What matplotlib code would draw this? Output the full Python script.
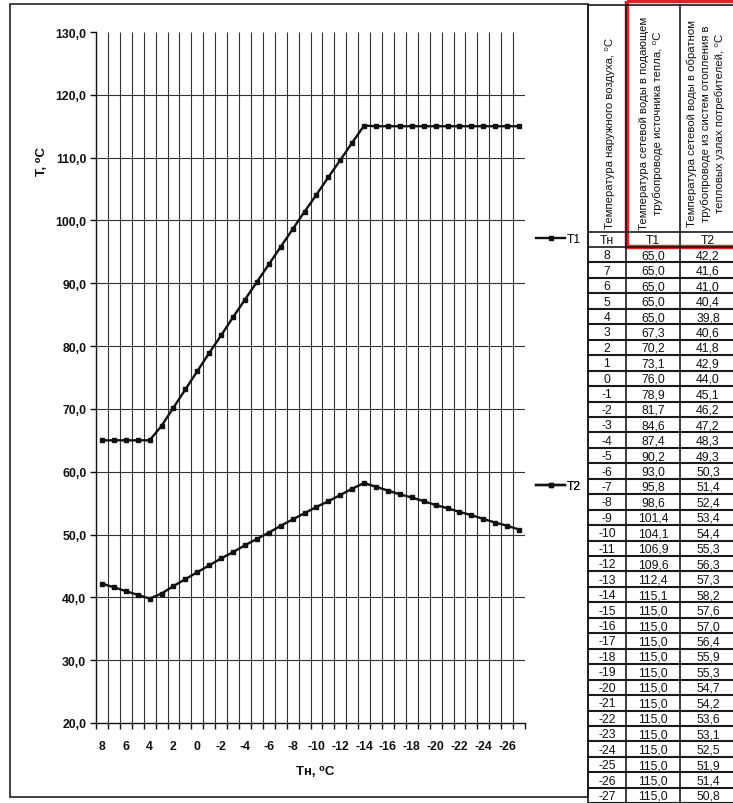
import matplotlib
matplotlib.use("Agg")
import matplotlib.pyplot as plt
from matplotlib.patches import Rectangle
from matplotlib.ticker import FuncFormatter, FixedLocator

plt.rcParams["font.family"] = ["Liberation Sans", "DejaVu Sans"]

# температурный график: наружная температура и температуры сетевой воды
t_out = [8, 7, 6, 5, 4, 3, 2, 1, 0, -1, -2, -3, -4, -5, -6, -7, -8, -9,
         -10, -11, -12, -13, -14, -15, -16, -17, -18, -19, -20, -21, -22,
         -23, -24, -25, -26, -27]
t1 = [65.0, 65.0, 65.0, 65.0, 65.0, 67.3, 70.2, 73.1, 76.0, 78.9, 81.7,
      84.6, 87.4, 90.2, 93.0, 95.8, 98.6, 101.4, 104.1, 106.9, 109.6,
      112.4, 115.1, 115.0, 115.0, 115.0, 115.0, 115.0, 115.0, 115.0,
      115.0, 115.0, 115.0, 115.0, 115.0, 115.0]
t2 = [42.2, 41.6, 41.0, 40.4, 39.8, 40.6, 41.8, 42.9, 44.0, 45.1, 46.2,
      47.2, 48.3, 49.3, 50.3, 51.4, 52.4, 53.4, 54.4, 55.3, 56.3, 57.3,
      58.2, 57.6, 57.0, 56.4, 55.9, 55.3, 54.7, 54.2, 53.6, 53.1, 52.5,
      51.9, 51.4, 50.8]

col_titles = [
    "Температура наружного воздуха, ⁰C",
    "Температура сетевой воды в подающем\nтрубопроводе источника тепла, ⁰C",
    "Температура сетевой воды в обратном\nтрубопроводе из систем отопления в\nтепловых узлах потребителей, ⁰C",
]
col_names = ["Тн", "T1", "T2"]

W, H = 733, 804
fig = plt.figure(figsize=(W / 100, H / 100), dpi=100)

# подложка в пикселях: рамка диаграммы и таблица
sheet = fig.add_axes([0, 0, 1, 1], zorder=-1)
sheet.set_xlim(0, W)
sheet.set_ylim(H, 0)
sheet.axis("off")

sheet.add_patch(Rectangle((10, 5), 578, 793, fill=False, ec="#222", lw=1.2))

col_edges = [588, 626, 680, 736]
head_top, head_bot, name_bot = 6, 233, 248
row_h = 15.45
n = len(t_out)
tab_bot = name_bot + n * row_h

lc = "#1a1a1a"
sheet.vlines(col_edges, head_top, tab_bot, color=lc, lw=1.2)
sheet.hlines([head_top, head_bot, name_bot], col_edges[0], col_edges[-1], color=lc, lw=1.2)
sheet.hlines([name_bot + (i + 1) * row_h for i in range(n)], col_edges[0], col_edges[-1],
             color=lc, lw=1.5)

centers = [(col_edges[i] + col_edges[i + 1]) / 2 for i in range(3)]
sheet.text(centers[0] + 3, head_bot - 4, col_titles[0], rotation=90, ha="center",
           va="bottom", fontsize=8.2, color="#111")
for c, title in zip(centers[1:], col_titles[1:]):
    sheet.text(c - 2, (head_top + head_bot) / 2 + 4, title, rotation=90, ha="center",
               va="center", fontsize=8.2, linespacing=1.45, color="#111",
               multialignment="center")

for c, name in zip(centers, col_names):
    sheet.text(c, (head_bot + name_bot) / 2 + 0.5, name, ha="center", va="center",
               fontsize=8.8, color="#111")

for i in range(n):
    y = name_bot + (i + 0.5) * row_h + 0.5
    row = [str(t_out[i]), f"{t1[i]:.1f}".replace(".", ","), f"{t2[i]:.1f}".replace(".", ",")]
    for c, s in zip(centers, row):
        sheet.text(c, y, s, ha="center", va="center", fontsize=8.8, color="#111")

# красная рамка вокруг столбцов T1 и T2
sheet.add_patch(Rectangle((627, 2), 112, 246, fill=False, ec="#e3202a", lw=3.2,
                          clip_on=False))

# график
ax = fig.add_axes([96 / W, 1 - 724 / H, (525 - 96) / W, (724 - 33) / H])
ax.set_xlim(8.5, -27.5)
ax.set_ylim(20, 130)

bounds = [t + 0.5 for t in t_out] + [t_out[-1] - 0.5]
grid_c = "#333333"
ax.vlines(bounds[1:-1], 20, 130, color=grid_c, lw=0.8)
ax.hlines(range(30, 130, 10), bounds[0], bounds[-1], color=grid_c, lw=0.8)

ax.plot(t_out, t1, color="#111", lw=1.7, marker="s", ms=2.2, label="T1")
ax.plot(t_out, t2, color="#111", lw=1.7, marker="s", ms=2.2, label="T2")

for s in ["top", "right"]:
    ax.spines[s].set_visible(False)
for s in ["left", "bottom"]:
    ax.spines[s].set_color("#111")
    ax.spines[s].set_linewidth(1.0)

ax.set_yticks(range(20, 131, 10))
ax.yaxis.set_major_formatter(FuncFormatter(lambda v, p: f"{v:.1f}".replace(".", ",")))
ax.tick_params(axis="y", length=4, width=1, pad=3, labelsize=8.8, colors="#111")
for lab in ax.get_yticklabels():
    lab.set_fontweight("bold")

ax.xaxis.set_major_locator(FixedLocator(bounds))
ax.xaxis.set_minor_locator(FixedLocator([t for t in t_out if t % 2 == 0]))
ax.xaxis.set_major_formatter(FuncFormatter(lambda v, p: ""))
ax.xaxis.set_minor_formatter(FuncFormatter(lambda v, p: f"{int(round(v))}"))
ax.tick_params(axis="x", which="major", length=4, width=1, colors="#111")
ax.tick_params(axis="x", which="minor", length=0, pad=12, labelsize=8.8, colors="#111")
for lab in ax.xaxis.get_minorticklabels():
    lab.set_fontweight("bold")

fig.text(315 / W, 1 - 772 / H, "Тн, ⁰C", ha="center", va="center", fontsize=9.5,
         fontweight="bold", color="#111")
fig.text(42 / W, 1 - 162 / H, "T, ⁰C", ha="center", va="center", rotation=90,
         fontsize=9.5, fontweight="bold", color="#111")

# легенда: два элемента далеко друг от друга
lines = ax.get_lines()
for line, ypix in zip(lines, [240, 487]):
    leg = ax.legend([line], [line.get_label()], loc="center left", frameon=False,
                    bbox_to_anchor=(530 / W, 1 - ypix / H), bbox_transform=fig.transFigure,
                    borderpad=0, handlelength=2.4, handletextpad=0.1, numpoints=1,
                    prop={"size": 8.8})
    ax.add_artist(leg)

fig.savefig("out.png", dpi=100, facecolor="white")
